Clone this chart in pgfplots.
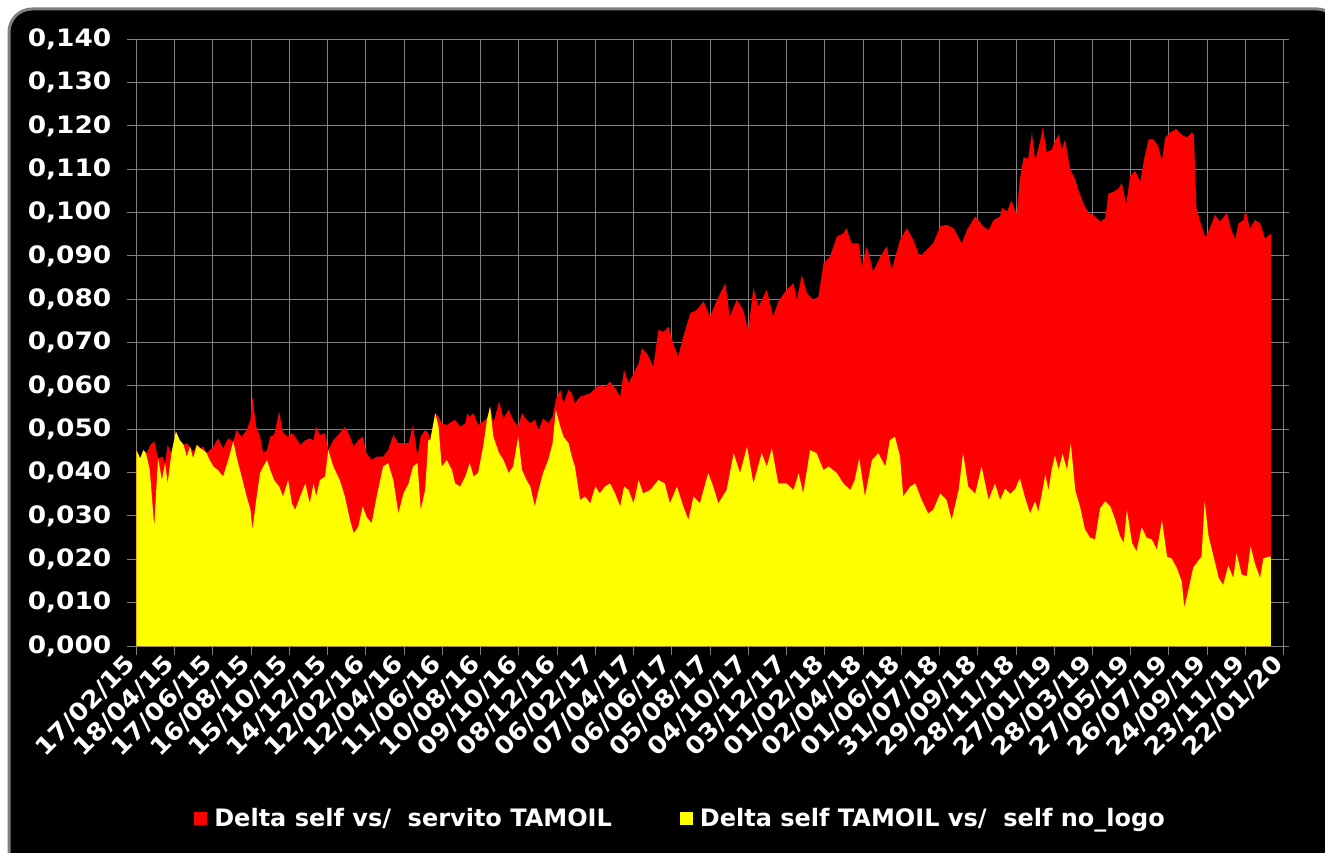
\documentclass[border=0pt]{standalone}
\usepackage{fontspec}
\usepackage{pgfplots}
\pgfplotsset{compat=1.18}
\setmainfont{DejaVu Sans}
\newfontfamily\tickfont[FakeStretch=1.1]{DejaVu Sans}
\definecolor{gridgray}{RGB}{128,128,128}
\definecolor{myred}{RGB}{255,0,0}
\definecolor{myyellow}{RGB}{255,255,0}

\pgfplotstableread{
d v
0 0.0452
6 0.0433
11 0.0452
16 0.0445
22 0.0464
28 0.0472
34 0.0433
41 0.0437
45 0.0422
49 0.0464
55 0.0445
62 0.0495
68 0.0475
74 0.0464
79 0.0468
84 0.0460
89 0.0448
95 0.0464
100 0.0456
105 0.0460
110 0.0445
115 0.0452
121 0.0460
128 0.0479
136 0.0456
144 0.0479
152 0.0472
157 0.0498
165 0.0483
173 0.0498
179 0.0522
182 0.0575
188 0.0506
194 0.0483
199 0.0445
205 0.0452
210 0.0483
216 0.0487
224 0.0541
230 0.0491
238 0.0483
244 0.0491
249 0.0483
257 0.0464
265 0.0475
272 0.0479
278 0.0475
282 0.0506
288 0.0487
296 0.0491
301 0.0452
309 0.0475
319 0.0491
327 0.0506
335 0.0483
341 0.0460
348 0.0475
355 0.0483
361 0.0445
369 0.0429
377 0.0437
387 0.0437
395 0.0452
403 0.0487
411 0.0468
419 0.0468
427 0.0468
434 0.0510
441 0.0437
446 0.0483
453 0.0498
458 0.0491
461 0.0475
469 0.0537
474 0.0529
479 0.0514
487 0.0510
495 0.0518
500 0.0522
508 0.0506
516 0.0514
519 0.0537
523 0.0529
529 0.0537
536 0.0510
544 0.0518
550 0.0525
555 0.0552
560 0.0514
569 0.0564
576 0.0525
584 0.0545
591 0.0522
599 0.0506
605 0.0537
612 0.0522
618 0.0514
625 0.0522
631 0.0498
638 0.0525
646 0.0514
653 0.0529
658 0.0568
665 0.0591
670 0.0560
678 0.0591
683 0.0583
688 0.0560
696 0.0575
704 0.0579
712 0.0583
720 0.0595
727 0.0602
735 0.0598
743 0.0610
751 0.0595
759 0.0575
765 0.0637
772 0.0606
780 0.0629
788 0.0652
793 0.0687
801 0.0675
811 0.0645
819 0.0729
827 0.0725
835 0.0737
842 0.0699
850 0.0668
858 0.0714
869 0.0768
879 0.0775
890 0.0795
900 0.0760
911 0.0799
924 0.0837
931 0.0760
942 0.0799
952 0.0775
960 0.0729
968 0.0826
976 0.0783
989 0.0822
999 0.0760
1007 0.0795
1020 0.0822
1031 0.0837
1036 0.0799
1044 0.0856
1052 0.0814
1062 0.0799
1070 0.0806
1078 0.0883
1088 0.0898
1099 0.0945
1109 0.0952
1114 0.0964
1122 0.0929
1133 0.0929
1138 0.0875
1146 0.0922
1156 0.0864
1167 0.0898
1177 0.0922
1185 0.0868
1198 0.0937
1209 0.0964
1219 0.0937
1229 0.0898
1240 0.0914
1250 0.0929
1261 0.0968
1271 0.0972
1282 0.0964
1295 0.0929
1303 0.0960
1316 0.0991
1329 0.0968
1337 0.0960
1345 0.0983
1355 0.0991
1358 0.1011
1366 0.1003
1373 0.1028
1381 0.0995
1386 0.1076
1392 0.1128
1399 0.1124
1405 0.1185
1410 0.1120
1418 0.1165
1422 0.1197
1428 0.1140
1436 0.1145
1441 0.1165
1447 0.1180
1452 0.1145
1457 0.1169
1465 0.1100
1473 0.1076
1478 0.1052
1486 0.1020
1494 0.0999
1501 0.0995
1512 0.0979
1520 0.0987
1525 0.1044
1533 0.1048
1541 0.1056
1546 0.1068
1553 0.1020
1559 0.1084
1567 0.1096
1575 0.1072
1581 0.1124
1588 0.1169
1596 0.1169
1603 0.1153
1609 0.1120
1614 0.1173
1622 0.1185
1631 0.1193
1640 0.1180
1648 0.1173
1656 0.1185
1659 0.1180
1663 0.1011
1669 0.0979
1677 0.0943
1684 0.0963
1692 0.0995
1700 0.0979
1711 0.0999
1718 0.0959
1724 0.0939
1729 0.0975
1737 0.0983
1740 0.1007
1747 0.0963
1755 0.0983
1763 0.0975
1771 0.0939
1776 0.0947
1780 0.0951
}\redtable

\pgfplotstableread{
d v
0 0.0452
6 0.0433
11 0.0452
15 0.0445
21 0.0406
28 0.0275
32 0.0383
34 0.0433
40 0.0383
45 0.0422
49 0.0375
55 0.0445
62 0.0495
68 0.0475
74 0.0464
79 0.0437
84 0.0460
89 0.0433
95 0.0464
100 0.0456
105 0.0452
110 0.0445
115 0.0429
121 0.0414
128 0.0406
136 0.0391
144 0.0429
152 0.0472
157 0.0437
165 0.0391
173 0.0345
179 0.0314
182 0.0268
188 0.0337
194 0.0399
199 0.0414
205 0.0429
210 0.0406
216 0.0383
224 0.0368
230 0.0345
238 0.0383
244 0.0329
249 0.0314
257 0.0345
265 0.0375
272 0.0329
278 0.0375
282 0.0345
288 0.0383
296 0.0391
301 0.0452
309 0.0414
319 0.0383
327 0.0345
335 0.0291
341 0.0260
348 0.0275
355 0.0322
361 0.0298
369 0.0283
377 0.0345
387 0.0414
395 0.0422
403 0.0383
411 0.0306
419 0.0352
427 0.0375
434 0.0414
441 0.0422
446 0.0314
453 0.0360
458 0.0475
461 0.0475
469 0.0537
474 0.0506
479 0.0414
487 0.0429
495 0.0406
500 0.0375
508 0.0368
516 0.0391
523 0.0422
529 0.0391
536 0.0399
544 0.0460
550 0.0522
555 0.0552
560 0.0483
569 0.0445
576 0.0429
584 0.0399
591 0.0414
599 0.0483
605 0.0406
612 0.0383
618 0.0368
625 0.0322
631 0.0360
638 0.0399
646 0.0429
653 0.0468
658 0.0545
665 0.0506
670 0.0483
678 0.0468
683 0.0437
688 0.0414
696 0.0337
704 0.0345
712 0.0329
720 0.0368
727 0.0352
735 0.0368
743 0.0375
751 0.0352
759 0.0322
765 0.0368
772 0.0360
780 0.0329
788 0.0383
795 0.0352
806 0.0360
819 0.0383
829 0.0375
837 0.0329
848 0.0368
858 0.0322
866 0.0291
874 0.0345
884 0.0329
897 0.0399
905 0.0368
913 0.0329
926 0.0360
937 0.0445
947 0.0399
958 0.0460
968 0.0375
981 0.0445
989 0.0414
997 0.0456
1007 0.0375
1020 0.0375
1031 0.0360
1039 0.0399
1046 0.0352
1057 0.0452
1067 0.0445
1078 0.0406
1086 0.0414
1099 0.0399
1109 0.0375
1120 0.0360
1127 0.0383
1134 0.0433
1143 0.0345
1154 0.0429
1164 0.0445
1175 0.0414
1182 0.0475
1190 0.0483
1198 0.0437
1203 0.0345
1214 0.0368
1222 0.0375
1232 0.0337
1242 0.0306
1250 0.0314
1261 0.0352
1271 0.0337
1279 0.0291
1290 0.0360
1297 0.0445
1305 0.0368
1316 0.0352
1326 0.0414
1337 0.0337
1347 0.0375
1355 0.0337
1363 0.0363
1371 0.0351
1379 0.0363
1386 0.0387
1394 0.0343
1402 0.0306
1410 0.0334
1415 0.0310
1420 0.0347
1426 0.0395
1431 0.0359
1436 0.0407
1441 0.0439
1447 0.0407
1453 0.0443
1460 0.0407
1466 0.0467
1473 0.0359
1481 0.0318
1488 0.0270
1496 0.0250
1504 0.0246
1512 0.0318
1520 0.0334
1528 0.0322
1535 0.0294
1543 0.0254
1549 0.0238
1554 0.0314
1562 0.0238
1569 0.0218
1577 0.0274
1585 0.0250
1593 0.0246
1601 0.0222
1609 0.0290
1617 0.0206
1624 0.0202
1632 0.0181
1640 0.0149
1644 0.0089
1651 0.0133
1658 0.0181
1666 0.0197
1671 0.0206
1676 0.0334
1682 0.0254
1690 0.0206
1698 0.0157
1705 0.0141
1713 0.0185
1721 0.0157
1726 0.0214
1734 0.0165
1742 0.0161
1748 0.0230
1755 0.0189
1763 0.0157
1768 0.0202
1776 0.0206
1780 0.0206
}\yellowtable

\begin{document}
\begin{tikzpicture}
\useasboundingbox (0,0) rectangle (662.5pt,426pt);
\fill[white] (0,0) rectangle (662.5pt,426pt);
\begin{scope}
\clip (0,0) rectangle (662.5pt,426pt);
\draw[gridgray, line width=1.5pt, fill=black, rounded corners=11.5pt] (4.5pt,-30pt) rectangle (670pt,421.5pt);
\end{scope}
\begin{axis}[
  at={(68.2pt,103pt)}, anchor=south west,
  width=573.65pt, height=303.35pt, scale only axis,
  xmin=0, xmax=1800, ymin=0, ymax=0.14,
  xtick={0,60,...,1800},
  xticklabels={17/02/15,18/04/15,17/06/15,16/08/15,15/10/15,14/12/15,12/02/16,12/04/16,11/06/16,10/08/16,09/10/16,08/12/16,06/02/17,07/04/17,06/06/17,05/08/17,04/10/17,03/12/17,01/02/18,02/04/18,01/06/18,31/07/18,29/09/18,28/11/18,27/01/19,28/03/19,27/05/19,26/07/19,24/09/19,23/11/19,22/01/20},
  ytick={0,0.01,0.02,0.03,0.04,0.05,0.06,0.07,0.08,0.09,0.10,0.11,0.12,0.13,0.14},
  yticklabel={\pgfmathprintnumber[fixed,fixed zerofill,precision=3,use comma,assume math mode=true]{\tick}},
  xtick pos=bottom, ytick pos=left,
  tick align=outside, major tick length=4.5pt,
  axis line style={gridgray, line width=0.5pt},
  major tick style={gridgray, line width=0.5pt},
  grid=major, major grid style={gridgray, line width=0.5pt},
  yticklabel style={font=\tickfont\bfseries\fontsize{12}{14}\selectfont, text=white, xshift=-4.5pt},
  xticklabel style={font=\tickfont\bfseries\fontsize{12}{14}\selectfont, text=white, rotate=45, anchor=east},
  legend columns=2,
  legend style={at={(axis description cs:0.4752,-0.2843)}, anchor=center, draw=none, fill=none,
    text=white, font=\bfseries\fontsize{12}{14}\selectfont,
    /tikz/every even column/.append style={column sep=32pt}},
  legend image code/.code={\path (0pt,0pt) -- (8pt,0pt);\fill[#1] (0pt,-3.25pt) rectangle (6.5pt,3.25pt);},
]
\addplot[fill=myred, draw=none] table[x=d,y=v] {\redtable} \closedcycle;
\addlegendentry{Delta self vs/\ \ servito TAMOIL}
\addplot[fill=myyellow, draw=none] table[x=d,y=v] {\yellowtable} \closedcycle;
\addlegendentry{Delta self TAMOIL vs/\ \ self no\_logo}
\end{axis}
\begin{axis}[
  at={(68.2pt,103pt)}, anchor=south west,
  width=573.65pt, height=303.35pt, scale only axis,
  xmin=0, xmax=1800, ymin=0, ymax=0.14,
  hide x axis, axis y line*=right,
  ytick={0,0.01,0.02,0.03,0.04,0.05,0.06,0.07,0.08,0.09,0.10,0.11,0.12,0.13,0.14},
  yticklabels={},
  tick align=outside, major tick length=2.5pt,
  axis line style={gridgray, line width=0.6pt},
  major tick style={gridgray, line width=0.5pt},
]
\end{axis}
\end{tikzpicture}
\end{document}
